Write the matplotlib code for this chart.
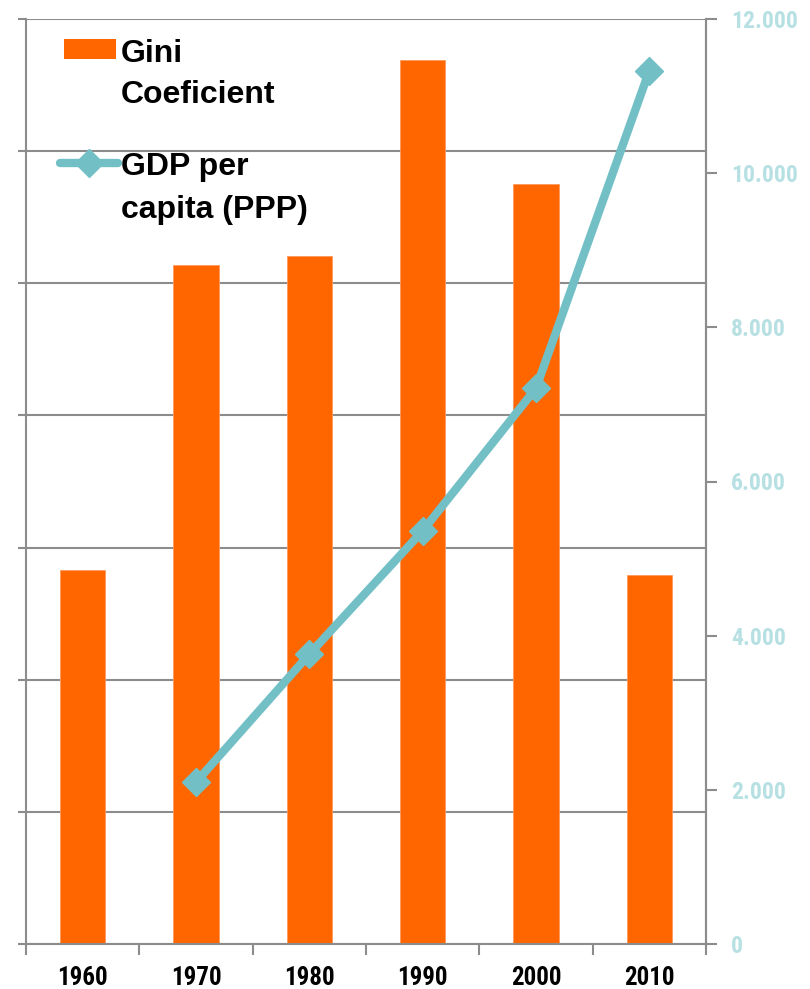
import matplotlib
matplotlib.use("Agg")
import matplotlib.pyplot as plt
from matplotlib import font_manager
from matplotlib.patches import Rectangle
from matplotlib.ticker import FuncFormatter, MultipleLocator, FixedLocator
import numpy as np

# data
years = ['1960', '1970', '1980', '1990', '2000', '2010']
gini = [0.283, 0.514, 0.521, 0.669, 0.575, 0.279]
gdp_years = ['1970', '1980', '1990', '2000', '2010']
gdp_ppp = [2100, 3760, 5360, 7210, 11330]

ORANGE = '#ff6600'
TEAL = '#72c0c6'
LIGHT_TEAL = '#b7e0e3'
GRID = '#8c8c8c'

names = {f.name for f in font_manager.fontManager.ttflist}
narrow = 'Liberation Sans'
for cand in ['Liberation Sans Narrow', 'Roboto Condensed', 'Open Sans Condensed']:
    if cand in names:
        narrow = cand
        break
plt.rcParams['font.family'] = ['Liberation Sans', 'DejaVu Sans']

fig = plt.figure(figsize=(8.1, 9.89), dpi=100)
ax = fig.add_axes([26 / 810, 45 / 989, 680 / 810, 925 / 989])

x = np.arange(len(years))
ax.bar(x, gini, width=0.4, color=ORANGE, edgecolor='#ff9a5c', linewidth=0.6, zorder=2)
ax.set_xlim(-0.5, len(years) - 0.5)
ax.set_ylim(0, 0.7)
ax.yaxis.set_major_locator(MultipleLocator(0.1))
ax.yaxis.set_major_formatter(FuncFormatter(lambda v, p: ''))
ax.grid(axis='y', color=GRID, linewidth=1.5, zorder=0)
ax.tick_params(axis='y', direction='out', length=6, width=1.5, color=GRID)

ax.set_xticks(x)
ax.set_xticklabels(years, fontfamily=narrow, fontweight='bold', fontsize=18)
ax.xaxis.set_minor_locator(FixedLocator(np.arange(-0.5, len(years), 1.0)))
ax.tick_params(axis='x', which='major', length=0, pad=16)
ax.tick_params(axis='x', which='minor', direction='out', length=8, width=1.5, color=GRID)

ax.spines['top'].set_visible(False)
for side in ['left', 'bottom', 'right']:
    ax.spines[side].set_color(GRID)
    ax.spines[side].set_linewidth(1.5)

# GDP on the secondary axis
ax2 = ax.twinx()
gx = [years.index(y) for y in gdp_years]
ax2.plot(gx, gdp_ppp, color=TEAL, linewidth=6, marker='D', markersize=14,
         markerfacecolor=TEAL, markeredgecolor=TEAL, solid_capstyle='round', zorder=3)
ax2.set_ylim(0, 12000)
ax2.yaxis.set_major_locator(MultipleLocator(2000))
ax2.yaxis.set_major_formatter(FuncFormatter(lambda v, p: f'{int(v):,}'.replace(',', '.')))
ax2.tick_params(axis='y', direction='out', length=8, width=1.5, color=GRID,
                labelcolor=LIGHT_TEAL, labelsize=17, pad=10)
for lab in ax2.get_yticklabels():
    lab.set_fontfamily(narrow)
    lab.set_fontweight('bold')
for side in ['top', 'left', 'bottom']:
    ax2.spines[side].set_visible(False)
ax2.spines['right'].set_color(GRID)
ax2.spines['right'].set_linewidth(1.5)

# legend drawn in axes fraction
ax2.add_patch(Rectangle((0.0559, 0.9568), 0.0765, 0.0216, transform=ax.transAxes,
                        facecolor=ORANGE, edgecolor='none', clip_on=False, zorder=5))
ax2.plot([0.05, 0.1353], [0.8443, 0.8443], transform=ax.transAxes, color=TEAL,
         linewidth=6, solid_capstyle='round', clip_on=False, zorder=5)
ax2.plot([0.0926], [0.8443], transform=ax.transAxes, marker='D', markersize=14,
         color=TEAL, clip_on=False, zorder=5)
legend_lines = [('Gini', 0.9535), ('Coeficient', 0.909),
                ('GDP per', 0.8314), ('capita (PPP)', 0.7849)]
for txt, yb in legend_lines:
    ax2.text(0.1397, yb, txt, transform=ax.transAxes, fontsize=23,
             fontweight='bold', va='baseline', ha='left')

fig.savefig('out.png', dpi=100)
